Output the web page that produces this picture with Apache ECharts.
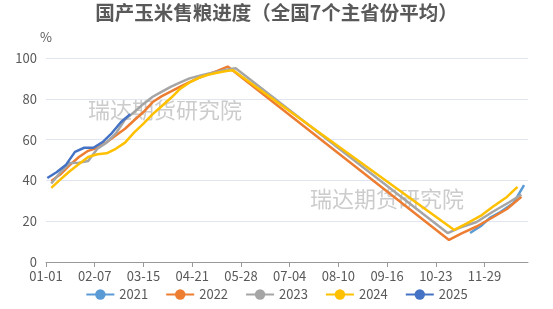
<!DOCTYPE html>
<html>
<head>
<meta charset="utf-8">
<script src="https://cdn.jsdelivr.net/npm/echarts@6/dist/echarts.min.js"></script>
<style>html,body{margin:0;padding:0;background:#fff}#c{width:553px;height:309px}</style>
</head>
<body>
<div id="c"></div>
<script>
// x positions are day-of-year (leap-year calendar), axis ticks every 37 days
const tickLabels = ['01-01','02-07','03-15','04-21','05-28','07-04','08-10','09-16','10-23','11-29'];
const seriesNames = ['2021','2022','2023','2024','2025'];

const days2021 = [322,330,337,345,355,363];
const vals2021 = [14.2,17.5,21.6,24.5,28.9,37.7];

const days2022 = [4,11,18,25,32,39,46,53,60,67,74,81,88,95,102,109,116,123,130,138,306,316,327,339,350,361];
const vals2022 = [39.7,43,47.5,51.5,54.5,56,58.7,62,65.3,69.5,73.5,78.4,81.3,83.6,86,88.2,90.3,92,93.7,95.8,10.8,14.2,17.4,21.8,26,32];

const days2023 = [4,11,18,25,32,39,46,53,60,67,74,81,88,95,102,109,116,123,130,137,144,305,314,327,339,352,361];
const vals2023 = [38.5,44,48.5,48.7,49.5,55.5,58.5,63,69.8,73.5,77.5,81,83.5,86,88,90,91.2,92.3,93.3,94.3,95,14.2,16.7,19.6,24.5,29.4,33];

const days2024 = [4,11,18,25,32,39,46,53,60,67,74,81,88,95,102,109,116,123,130,137,142,310,320,331,339,350,358];
const vals2024 = [36.3,40.5,44.5,48,51.5,52.8,53.3,55.5,58.5,63.5,67.8,72.5,76.5,80.5,85,88,90.3,91.8,92.8,93.6,94,15.7,19.1,23,27,31.9,36.8];

const days2025 = [1,8,15,22,29,36,43,50,57,64];
const vals2025 = [41.2,44,47.5,54,56,56,58.8,63.2,68.6,72.5];

const colors = ['#5B9BD5','#ED7D31','#A5A5A5','#FFC000','#4472C4'];
const allDays = [days2021,days2022,days2023,days2024,days2025];
const allVals = [vals2021,vals2022,vals2023,vals2024,vals2025];

const font = '"Noto Sans CJK SC", "Noto Sans", sans-serif';
const tickValues = tickLabels.map((_, i) => i * 37);

const chart = echarts.init(document.getElementById('c'), null, {renderer: 'canvas'});
chart.setOption({
  animation: false,
  textStyle: {fontFamily: font},
  title: {
    text: '国产玉米售粮进度（全国7个主省份平均）',
    left: 'center', top: 3, padding: 0,
    textStyle: {fontSize: 19.5, fontWeight: 'bold', color: '#595959', fontFamily: font}
  },
  grid: {left: 46, right: 25, top: 58, bottom: 47, containLabel: false},
  legend: {
    bottom: 3, left: 'center',
    itemWidth: 28, itemHeight: 13, itemGap: 17,
    textStyle: {fontSize: 13, color: '#595959', fontFamily: font},
    data: seriesNames
  },
  xAxis: {
    type: 'value', min: 0, max: 366,
    axisLine: {show: true, lineStyle: {color: '#999999'}},
    axisTick: {show: true, customValues: tickValues, lineStyle: {color: '#999999'}},
    axisLabel: {
      customValues: tickValues, fontSize: 13, color: '#595959', margin: 8,
      formatter: v => tickLabels[Math.round(v / 37)] || ''
    },
    splitLine: {show: false}
  },
  yAxis: {
    type: 'value', min: 0, max: 100, interval: 20,
    name: '%', nameLocation: 'end', nameGap: 14,
    nameTextStyle: {fontSize: 13, color: '#595959', align: 'center'},
    axisLine: {show: false}, axisTick: {show: false},
    axisLabel: {fontSize: 13, color: '#595959', margin: 9},
    splitLine: {lineStyle: {color: '#E0E6F1'}}
  },
  graphic: [
    {type: 'text', left: 88, top: 99, z: 0, silent: true,
     style: {text: '瑞达期货研究院', fontSize: 22, fill: '#cccccc', fontFamily: font}},
    {type: 'text', left: 310, top: 188, z: 0, silent: true,
     style: {text: '瑞达期货研究院', fontSize: 22, fill: '#cccccc', fontFamily: font}}
  ],
  series: seriesNames.map((name, i) => ({
    name: name, type: 'line', showSymbol: false, symbol: 'circle', symbolSize: 10,
    z: 3,
    lineStyle: {width: 2.5, color: colors[i]},
    itemStyle: {color: colors[i]},
    data: allDays[i].map((d, k) => [d, allVals[i][k]])
  }))
});
</script>
</body>
</html>
